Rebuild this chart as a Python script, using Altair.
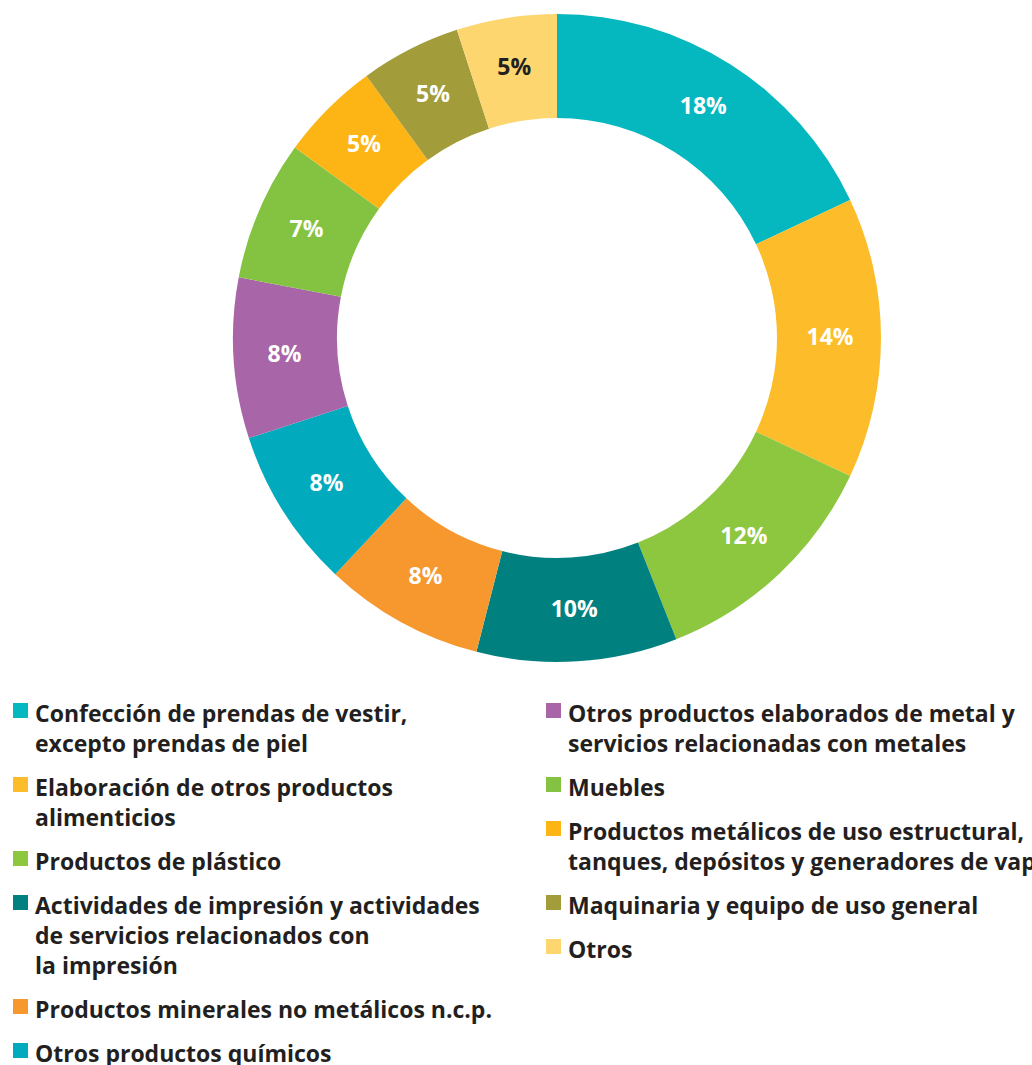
import altair as alt
import pandas as pd

# ---- data -------------------------------------------------------------
labels = [
    "Confección de prendas de vestir,\nexcepto prendas de piel",
    "Elaboración de otros productos\nalimenticios",
    "Productos de plástico",
    "Actividades de impresión y actividades\nde servicios relacionados con\nla impresión",
    "Productos minerales no metálicos n.c.p.",
    "Otros productos químicos",
    "Otros productos elaborados de metal y\nservicios relacionadas con metales",
    "Muebles",
    "Productos metálicos de uso estructural,\ntanques, depósitos y generadores de vapor",
    "Maquinaria y equipo de uso general",
    "Otros",
]
values = [18, 14, 12, 10, 8, 8, 8, 7, 5, 5, 5]
colors = ["#05B8BF", "#FDBD2A", "#8DC63F", "#00807F", "#F7982F", "#02AABD",
          "#A865A8", "#84C341", "#FDB515", "#A39C3A", "#FDD670"]
label_colors = ["#FFFFFF"] * 10 + ["#231F20"]

# ---- layout constants ---------------------------------------------------
W, H = 1032, 1065
CX, CY = 557, 338
R_OUT, R_IN, R_LAB = 324, 220, 273
FONT = "Open Sans"
TXT = "#231F20"
LEG_FS = 23
LINE_H = 30
ITEM_GAP = 14
LEG_TOP = 722
COL_SPLIT = 6
COL_TEXT_X = [35, 568]
COL_SQ_X = [20.5, 553.5]
SQ_OFF = 11.5

cats = [l.replace("\n", " ") for l in labels]

pie_df = pd.DataFrame({
    "cat": cats,
    "value": values,
    "idx": list(range(len(values))),
    "pct": [f"{v}%" for v in values],
    "tcol": label_colors,
})

# legend rows computed from line counts
text_rows, sq_rows = [], []
for col in range(2):
    y = LEG_TOP
    items = range(0, COL_SPLIT) if col == 0 else range(COL_SPLIT, len(labels))
    for i in items:
        lines = labels[i].split("\n")
        sq_rows.append({"cat": cats[i], "x": COL_SQ_X[col], "y": y - SQ_OFF})
        for ln in lines:
            text_rows.append({"t": ln, "x": COL_TEXT_X[col], "y": y})
            y += LINE_H
        y += ITEM_GAP
text_df = pd.DataFrame(text_rows)
sq_df = pd.DataFrame(sq_rows)

color_scale = alt.Scale(domain=cats, range=colors)
xs = alt.Scale(domain=[0, W], range=[0, W])
ys = alt.Scale(domain=[0, H], range=[0, H])

arcs = alt.Chart(pie_df).mark_arc(radius=R_OUT, radius2=R_IN, strokeWidth=0).encode(
    theta=alt.Theta("value:Q", stack=True),
    order=alt.Order("idx:Q"),
    color=alt.Color("cat:N", scale=color_scale, legend=None),
    x=alt.value(CX), y=alt.value(CY),
)

pct = alt.Chart(pie_df).mark_text(
    radius=R_LAB, font=FONT, fontSize=23, fontWeight="bold", baseline="middle", align="center"
).encode(
    theta=alt.Theta("value:Q", stack=True),
    order=alt.Order("idx:Q"),
    text="pct:N",
    color=alt.Color("tcol:N", scale=None),
    x=alt.value(CX), y=alt.value(CY),
)

leg_text = alt.Chart(text_df).mark_text(
    font=FONT, fontSize=LEG_FS, fontWeight="bold", align="left", baseline="alphabetic", color=TXT
).encode(
    x=alt.X("x:Q", scale=xs, axis=None),
    y=alt.Y("y:Q", scale=ys, axis=None),
    text="t:N",
)

leg_sq = alt.Chart(sq_df).mark_square(size=225, opacity=1).encode(
    x=alt.X("x:Q", scale=xs, axis=None),
    y=alt.Y("y:Q", scale=ys, axis=None),
    color=alt.Color("cat:N", scale=color_scale, legend=None),
)

chart = alt.layer(arcs, pct, leg_sq, leg_text).properties(
    width=W, height=H, padding=0, autosize=alt.AutoSizeParams(type="none"),
    background="white",
).configure_view(stroke=None)

chart.save("out.html", embed_options={"renderer": "svg", "actions": False})
